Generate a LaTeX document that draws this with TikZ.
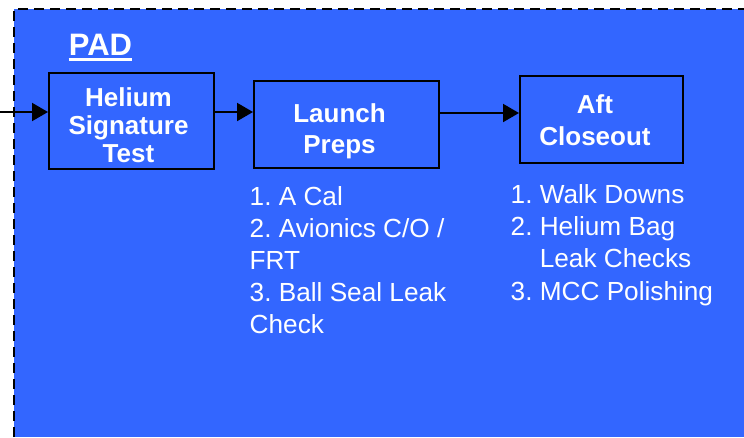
\documentclass[tikz,border=0pt]{standalone}
\usepackage{fontspec}
\setmainfont{Liberation Sans}
\usetikzlibrary{arrows.meta}
\definecolor{padblue}{RGB}{51,102,255}
\frenchspacing
\tikzset{
  stepbox/.style={draw=black, line width=2pt, fill=padblue, inner sep=0pt},
  boxtext/.style={text=white, font=\bfseries, align=center, inner sep=0pt},
  listtext/.style={text=white, align=left, inner sep=0pt, anchor=north west},
  flow/.style={line width=2pt, -{Triangle[length=16pt,width=18pt]}},
}
\begin{document}
\begin{tikzpicture}[x=1pt,y=-1pt]
\useasboundingbox (0,0) rectangle (744,437);
\fill[padblue] (14,9) rectangle (744,437);
\draw[line width=2.6pt, dash pattern=on 10pt off 6pt] (14,437) -- (14,9) -- (744,9);
% title
\node[text=white, inner sep=0pt, anchor=base west, font=\fontsize{31}{31}\selectfont\bfseries] (pad) at (68.7,55) {PAD};
\draw[white, line width=2.3pt] ([yshift=-4.5pt]pad.base west) -- ([yshift=-4.5pt]pad.base east);
% boxes
\node[stepbox, minimum width=165pt, minimum height=96pt] (b1) at (131.5,121) {};
\node[stepbox, minimum width=185pt, minimum height=87pt] (b2) at (346.5,124.5) {};
\node[stepbox, minimum width=163pt, minimum height=87pt] (b3) at (601.5,119.5) {};
\node[boxtext, font=\fontsize{26}{28}\selectfont\bfseries] (t1) at (128.5,125.7) {Helium\\Signature\\Test};
\node[boxtext, font=\fontsize{26}{31}\selectfont\bfseries] (t2) at (339.5,131) {Launch\\Preps};
\node[boxtext, font=\fontsize{26}{32}\selectfont\bfseries] (t3) at (595,120.3) {Aft\\Closeout};
% lists
\node[listtext, font=\fontsize{26.2}{32}\selectfont] (l2) at (249.5,186)
  {1. A Cal\\2. Avionics C/O /\\FRT\\3. Ball Seal Leak\\Check};
\node[listtext, font=\fontsize{26.2}{32.3}\selectfont] (l3) at (510.5,184)
  {1. Walk Downs\\2. Helium Bag\\\phantom{2.}\ Leak Checks\\3. MCC Polishing};
% connectors
\coordinate (src) at (0,112);
\coordinate (y1) at (0,112);
\coordinate (y2) at (0,113);
\draw[flow] (src) -- (b1.west |- src);
\draw[flow] (b1.east |- y1) -- (b2.west |- y1);
\draw[flow] (b2.east |- y2) -- (b3.west |- y2);
\end{tikzpicture}
\end{document}
